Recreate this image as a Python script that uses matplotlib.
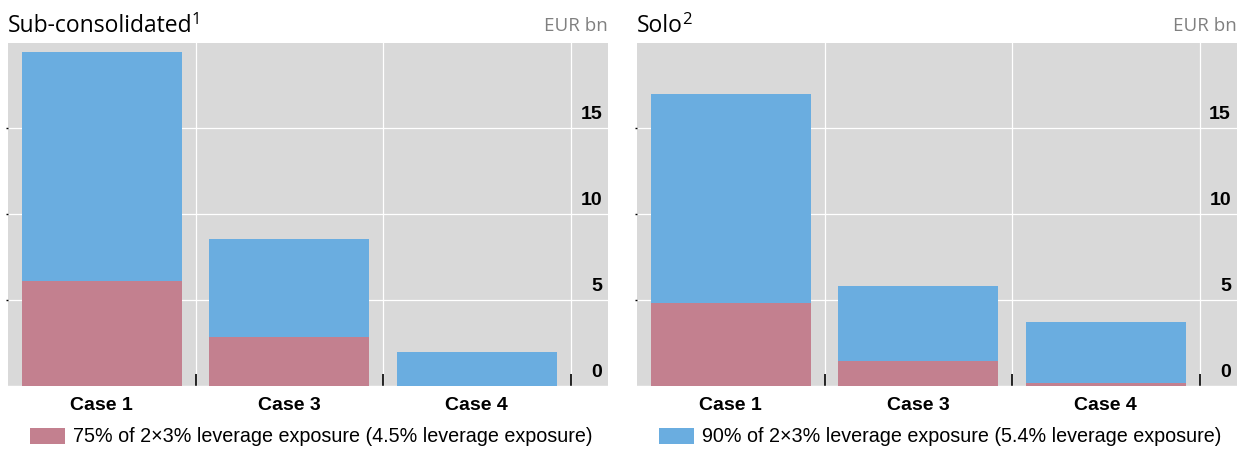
import matplotlib
matplotlib.use("Agg")
import matplotlib.pyplot as plt
from matplotlib.patches import Patch
from matplotlib.transforms import blended_transform_factory, ScaledTranslation

# ---- data ----
categories = ["Case 1", "Case 3", "Case 4"]
sub_90 = [19.4, 8.55, 2.0]     # 90% of 2x3% leverage exposure (blue)
sub_75 = [6.1, 2.85, 0.0]      # 75% of 2x3% leverage exposure (pink)
solo_90 = [17.0, 5.8, 3.7]
solo_75 = [4.85, 1.45, 0.15]
ytick_vals = [0, 5, 10, 15]
titles = ["Sub-consolidated", "Solo"]
title_sups = ["1", "2"]
unit = "EUR bn"
legend_75 = "75% of 2×3% leverage exposure (4.5% leverage exposure)"
legend_90 = "90% of 2×3% leverage exposure (5.4% leverage exposure)"

BLUE = "#6aade0"
PINK = "#c3808f"
BG = "#d9d9d9"

W, H = 1247, 449
fig = plt.figure(figsize=(W / 100, H / 100), dpi=100)

def fx(px):
    return px / W

def fy(py):
    return (H - py) / H

top, bot = 43, 386
panels = [
    dict(x0=8, title=titles[0], sup=title_sups[0], v90=sub_90, v75=sub_75,
         leg=(legend_75, PINK), legx=30),
    dict(x0=637, title=titles[1], sup=title_sups[1], v90=solo_90, v75=solo_75,
         leg=(legend_90, BLUE), legx=659),
]

fig.canvas.draw()
renderer = fig.canvas.get_renderer()

for p in panels:
    ax = fig.add_axes([fx(p["x0"]), fy(bot), fx(600), (bot - top) / H])
    ax.set_facecolor(BG)
    x = list(range(len(categories)))
    ax.bar(x, p["v90"], width=0.855, color=BLUE, zorder=3)
    ax.bar(x, p["v75"], width=0.855, color=PINK, zorder=4)
    ax.set_xlim(-0.5, 2.7)
    ax.set_ylim(0, 19.95)
    for s in ax.spines.values():
        s.set_visible(False)
    ax.set_yticks(ytick_vals[1:])
    ax.set_yticklabels([])
    ax.tick_params(axis="y", left=True, length=1.5, width=1, color="black")
    ax.set_xticks(x)
    ax.set_xticklabels(categories, fontsize=14, fontweight="bold",
                       family="Liberation Sans")
    ax.tick_params(axis="x", which="major", length=0, pad=8)
    ax.set_xticks([0.5, 1.5, 2.5], minor=True)
    ax.tick_params(axis="x", which="minor", direction="in", length=8.5,
                   width=1.2, color="black")
    ax.grid(True, axis="y", which="major", color="white", linewidth=0.9, zorder=1)
    ax.grid(True, axis="x", which="minor", color="white", linewidth=0.9, zorder=1)
    ax.set_axisbelow(True)
    ax.axhline(0, color="white", linewidth=1.0, zorder=2)

    tr = blended_transform_factory(ax.transAxes, ax.transData) + \
        ScaledTranslation(0, 5 / 100, fig.dpi_scale_trans)
    for v in ytick_vals:
        ax.text(0.99, v, str(v), transform=tr, ha="right", va="bottom",
                fontsize=14, fontweight="bold", family="Liberation Sans",
                zorder=6)

    # title + superscript
    t = fig.text(fx(p["x0"]), fy(32), p["title"], fontsize=16.5,
                 family="Open Sans", ha="left", va="baseline", color="black")
    bb = t.get_window_extent(renderer=renderer)
    fig.text((bb.x1 - 1) / W, fy(12), p["sup"], fontsize=12,
             family="Open Sans", ha="left", va="top", color="black")
    fig.text(fx(p["x0"] + 600), fy(31), unit, fontsize=13.5, family="Open Sans",
             ha="right", va="baseline", color="#808080")

    lab, col = p["leg"]
    ax.legend(handles=[Patch(facecolor=col, edgecolor="none", label=lab)],
              loc="center left", bbox_to_anchor=(fx(p["legx"]), fy(437)),
              bbox_transform=fig.transFigure, frameon=False, borderpad=0,
              borderaxespad=0, handlelength=1.75, handleheight=0.85,
              handletextpad=0.45,
              prop=dict(family="Liberation Sans", size=14.2))

fig.savefig("out.png", dpi=100)
